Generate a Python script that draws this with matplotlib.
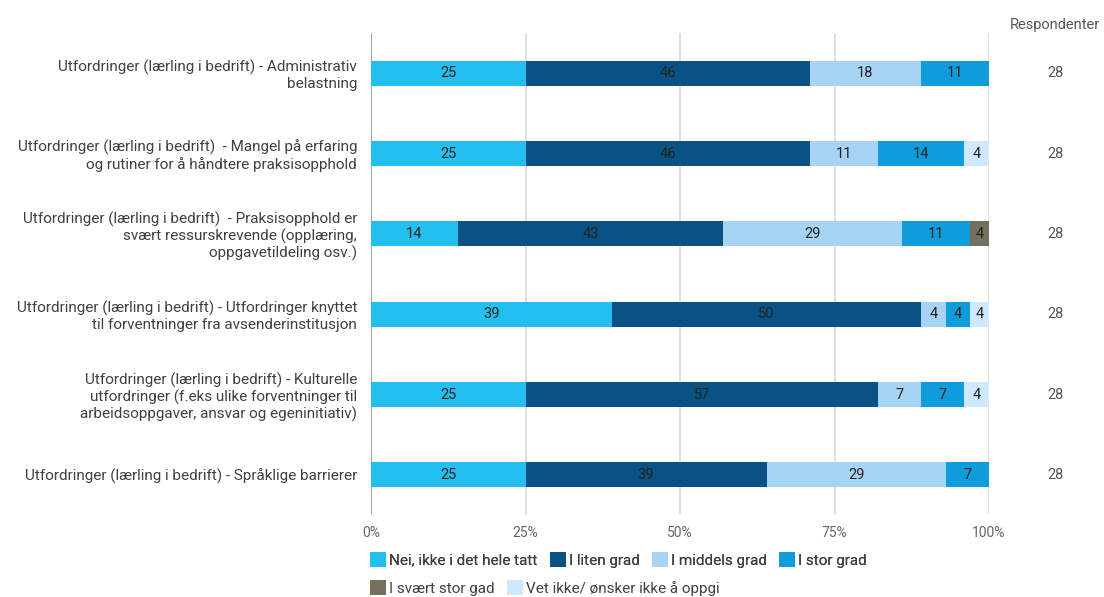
import matplotlib
matplotlib.use("Agg")
import matplotlib.pyplot as plt
from matplotlib.patches import Patch
from matplotlib.transforms import blended_transform_factory

plt.rcParams['font.family'] = ['Roboto', 'DejaVu Sans']

# Survey items (top to bottom)
categories = [
    "Utfordringer (lærling i bedrift) - Administrativ\nbelastning",
    "Utfordringer (lærling i bedrift)  - Mangel på erfaring\nog rutiner for å håndtere praksisopphold",
    "Utfordringer (lærling i bedrift)  - Praksisopphold er\nsvært ressurskrevende (opplæring,\noppgavetildeling osv.)",
    "Utfordringer (lærling i bedrift) - Utfordringer knyttet\ntil forventninger fra avsenderinstitusjon",
    "Utfordringer (lærling i bedrift) - Kulturelle\nutfordringer (f.eks ulike forventninger til\narbeidsoppgaver, ansvar og egeninitiativ)",
    "Utfordringer (lærling i bedrift) - Språklige barrierer",
]

series_names = [
    "Nei, ikke i det hele tatt",
    "I liten grad",
    "I middels grad",
    "I stor grad",
    "I svært stor gad",
    "Vet ikke/ ønsker ikke å oppgi",
]

# Percent per answer category, one list per series (same order as categories)
nei = [25, 25, 14, 39, 25, 25]
liten = [46, 46, 43, 50, 57, 39]
middels = [18, 11, 29, 4, 7, 29]
stor = [11, 14, 11, 4, 7, 7]
svaert_stor = [0, 0, 4, 0, 0, 0]
vet_ikke = [0, 4, 0, 4, 4, 0]

respondents = [28, 28, 28, 28, 28, 28]

x_ticks = [0, 25, 50, 75, 100]
x_tick_labels = ["0%", "25%", "50%", "75%", "100%"]

colors = ["#22BFF0", "#0B5284", "#A7D3F4", "#109CDB", "#756F5D", "#CDE9FB"]

series = [nei, liten, middels, stor, svaert_stor, vet_ikke]

fig = plt.figure(figsize=(11.04, 5.97), dpi=100)
ax = fig.add_axes([371 / 1104, 1 - 515 / 597, 618 / 1104, 482 / 597])

y = list(range(len(categories)))
left = [0] * len(categories)
for vals, color, name in zip(series, colors, series_names):
    bars = ax.barh(y, vals, left=left, height=0.31, color=color, label=name,
                   edgecolor="none", zorder=3)
    labels = [str(v) if v > 0 else "" for v in vals]
    ax.bar_label(bars, labels=labels, label_type="center", fontsize=10.5,
                 color="#222222", zorder=4)
    left = [l + v for l, v in zip(left, vals)]

ax.set_xlim(0, 100)
ax.set_ylim(len(categories) - 0.5, -0.5)
ax.set_yticks(y)
ax.set_yticklabels(categories, fontsize=11, color="#404040", linespacing=1.15)
ax.set_xticks(x_ticks)
ax.set_xticklabels(x_tick_labels, fontsize=10, color="#666666")
ax.tick_params(axis="both", length=0)
ax.tick_params(axis="y", pad=10)
ax.tick_params(axis="x", pad=8)

for s in ax.spines.values():
    s.set_visible(False)
for xt in x_ticks:
    ax.axvline(xt, color="#9a9a9a" if xt == 0 else "#dcdcdc",
               lw=1.3, zorder=1)

# Respondent counts on the right
trans = blended_transform_factory(fig.transFigure, ax.transData)
for yi, n in zip(y, respondents):
    ax.text(1055 / 1104, yi, str(n), transform=trans, ha="center",
            va="center", fontsize=10.5, color="#555555")
fig.text(1055 / 1104, 1 - 25 / 597, "Respondenter", ha="center",
         va="center", fontsize=10.5, color="#555555")

# Legend in two rows
handles = [Patch(facecolor=c, edgecolor="none") for c in colors]
leg_kw = dict(frameon=False, fontsize=11, handlelength=1.05, handleheight=1.05,
              handletextpad=0.2, columnspacing=0.8, borderpad=0,
              borderaxespad=0, labelcolor="#404040")
leg1 = fig.legend(handles[:4], series_names[:4], ncol=4, loc="center left",
                  bbox_to_anchor=(370 / 1104, 1 - 560 / 597), **leg_kw)
fig.add_artist(leg1)
fig.legend(handles[4:], series_names[4:], ncol=2, loc="center left",
           bbox_to_anchor=(370 / 1104, 1 - 588 / 597), **leg_kw)

fig.savefig("out.png", dpi=100, facecolor="white")
